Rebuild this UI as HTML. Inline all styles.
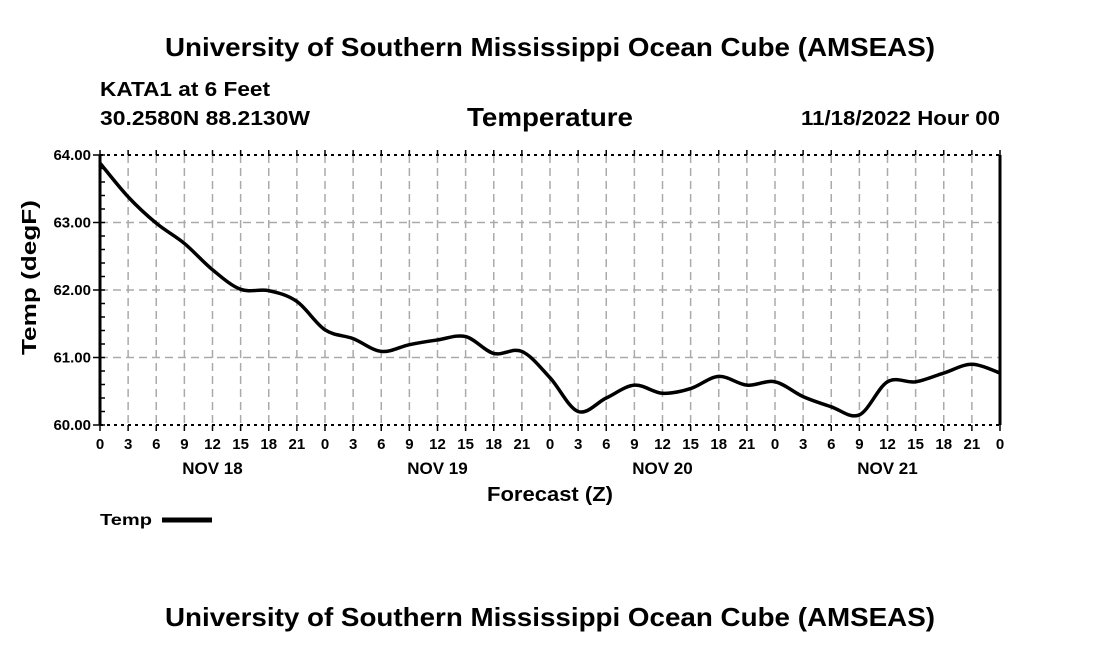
<!DOCTYPE html>
<html><head><meta charset="utf-8"><style>
body{margin:0;background:#fff;width:1100px;height:650px;overflow:hidden}
svg text{font-family:"Liberation Sans",sans-serif;font-weight:bold;fill:#000}
</style></head><body>
<svg id="c" width="1100" height="650">
<text x="165" y="56" font-size="26" textLength="770" lengthAdjust="spacingAndGlyphs">University of Southern Mississippi Ocean Cube (AMSEAS)</text>
<text x="100" y="96" font-size="20" textLength="170" lengthAdjust="spacingAndGlyphs">KATA1 at 6 Feet</text>
<text x="100" y="125" font-size="20" textLength="210" lengthAdjust="spacingAndGlyphs">30.2580N  88.2130W</text>
<text x="467" y="126" font-size="26" textLength="166" lengthAdjust="spacingAndGlyphs">Temperature</text>
<text x="801" y="125" font-size="20" textLength="199" lengthAdjust="spacingAndGlyphs">11/18/2022 Hour 00</text>
<text x="487" y="501" font-size="20" textLength="126" lengthAdjust="spacingAndGlyphs">Forecast (Z)</text>
<text transform="translate(36,355) rotate(-90)" font-size="20" textLength="155" lengthAdjust="spacingAndGlyphs">Temp (degF)</text>
<text x="100" y="525" font-size="16" textLength="52" lengthAdjust="spacingAndGlyphs">Temp</text>
<line x1="162" y1="520" x2="212" y2="520" stroke="#000" stroke-width="5"/>
<text x="165" y="626" font-size="26" textLength="770" lengthAdjust="spacingAndGlyphs">University of Southern Mississippi Ocean Cube (AMSEAS)</text>
<g id="plot"></g>
</svg>
<script>
const hours=[0,3,6,9,12,15,18,21,24,27,30,33,36,39,42,45,48,51,54,57,60,63,66,69,72,75,78,81,84,87,90,93,96];
const temps=[63.88,63.38,62.99,62.69,62.30,62.01,61.99,61.83,61.41,61.28,61.09,61.19,61.26,61.31,61.06,61.09,60.70,60.20,60.40,60.59,60.47,60.54,60.72,60.59,60.64,60.42,60.27,60.15,60.64,60.64,60.77,60.90,60.77];
const yTicks=[60,61,62,63,64];
const dayLabels=["NOV 18","NOV 19","NOV 20","NOV 21"];
const X0=100,X1=1000,Y0=425,Y1=155;
const xs=h=>X0+(X1-X0)*h/96;
const ys=v=>Y0-(Y0-Y1)*(v-60)/4;
const NS="http://www.w3.org/2000/svg";
const g=document.getElementById('plot');
function mk(t,a){const e=document.createElementNS(NS,t);for(const k in a)e.setAttribute(k,a[k]);g.appendChild(e);return e;}
for(let h=0;h<=96;h+=3){
  const x=xs(h);
  if(h>0&&h<96){const l=mk('line',{x1:x,y1:Y1,x2:x,y2:Y0,stroke:'#aaa','stroke-width':1.5,'stroke-dasharray':'8,5'});
  
  }
  const tk=mk('line',{x1:x,y1:Y0,x2:x,y2:Y0+6,stroke:'#000','stroke-width':1.5});
  
  
  mk('line',{x1:x,y1:Y1,x2:x,y2:Y1-5,stroke:'#000','stroke-width':1.5});
  const t=mk('text',{x:x,y:Y0+24,'text-anchor':'middle','font-size':15});
  t.textContent=String(h%24);
  
  
}
dayLabels.forEach((d,i)=>{const t=mk('text',{x:xs(12+24*i),y:Y0+49,'text-anchor':'middle','font-size':17});
t.textContent=d;

});
yTicks.forEach(v=>{const y=ys(v);
  if(v>60&&v<64){const l=mk('line',{x1:X0,y1:y,x2:X1,y2:y,stroke:'#aaa','stroke-width':1.5,'stroke-dasharray':'8,5'});
  
  }
  mk('line',{x1:X0-7,y1:y,x2:X0,y2:y,stroke:'#000','stroke-width':1.5});
  const t=mk('text',{x:X0-9,y:y+5,'text-anchor':'end','font-size':15});
  t.textContent=v.toFixed(2);
  
  
});
for(let v=60;v<=64.001;v+=0.2){const y=ys(v);mk('line',{x1:X0,y1:y,x2:X0+5,y2:y,stroke:'#000','stroke-width':1.5});}
[Y1,Y0].forEach(y=>{const l=mk('line',{x1:X0,y1:y,x2:X1,y2:y,stroke:'#000','stroke-width':2,'stroke-dasharray':'3,4'});

});
[X0,X1].forEach(x=>{const l=mk('line',{x1:x,y1:Y1,x2:x,y2:Y0,stroke:'#000','stroke-width':3});

});
const P=hours.map((h,i)=>[xs(h),ys(temps[i])]);
let d='M'+P[0][0]+','+P[0][1];
for(let i=0;i<P.length-1;i++){const p0=P[Math.max(0,i-1)],p1=P[i],p2=P[i+1],p3=P[Math.min(P.length-1,i+2)];
d+=' C'+(p1[0]+(p2[0]-p0[0])/6)+','+(p1[1]+(p2[1]-p0[1])/6)+' '+(p2[0]-(p3[0]-p1[0])/6)+','+(p2[1]-(p3[1]-p1[1])/6)+' '+p2[0]+','+p2[1];}
const line=mk('path',{d:d,fill:'none',stroke:'#000','stroke-width':3.5,'stroke-linejoin':'round'});


</script>
</body></html>
